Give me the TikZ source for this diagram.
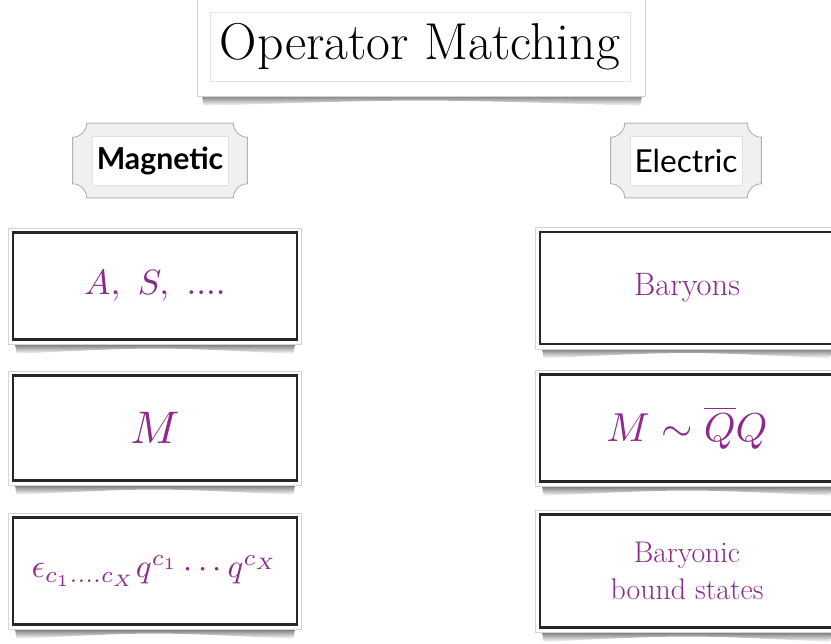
\documentclass[tikz,border=0pt]{standalone}
\usepackage{amsmath,amssymb}
\usepackage{graphicx}
\usepackage{fontspec}
\setsansfont{Lato}
\usetikzlibrary{calc,positioning,backgrounds}
\definecolor{plum}{HTML}{8C2A8E}
\definecolor{rim}{HTML}{D4D4D4}
\tikzset{opbox/.style={draw=black!85,line width=1.5pt,fill=white,minimum width=5.68cm,minimum height=2.14cm,text=plum,align=center,inner sep=0pt},
 titlebox/.style={draw=black!10,line width=.4pt,fill=white,minimum width=8.4cm,minimum height=1.38cm,inner sep=0pt,font=\fontsize{29.5}{32}\selectfont},
 sidetag/.style={draw=black!12,line width=.4pt,fill=white,minimum width=2.72cm,minimum height=.98cm,inner sep=0pt,font=\sffamily\fontsize{18}{20}\selectfont},
 outframe/.style={draw=rim,fill=white,line width=.7pt},
 shadowband/.style={top color=black!60,bottom color=white},
 tagline/.style={draw=black!30,fill=black!6,line width=.5pt}}

\begin{document}
\begin{tikzpicture}[x=0.02cm,y=0.02cm]
\useasboundingbox (0,0) rectangle (831,-643);
% title
\node[titlebox] (title) at (420,-47) {Operator Matching};
% headings
\node[sidetag,font=\sffamily\bfseries\fontsize{17.2}{20}\selectfont] (mag) at (160,-161) {Magnetic};
\node[sidetag,minimum width=2.24cm] (ele) at (686,-161) {Electric};
% magnetic column
\node[opbox] (m1) at (155,-286) {\scalebox{2.0}{$A,\ S,\ ....$}};
\node[opbox,minimum height=2.1cm] (m2) at (155,-428) {\scalebox{2.6}{$M$}};
\node[opbox] (m3) at (155,-571) {\scalebox{1.88}{$\epsilon_{c_1....c_X}q^{c_1}\cdots q^{c_X}$}};
% electric column
\node[opbox,minimum width=5.88cm,minimum height=2.24cm,font=\fontsize{18.5}{21}\selectfont] (e1) at (687,-288) {Baryons};
\node[opbox,minimum width=5.88cm,minimum height=2.14cm] (e2) at (687,-428) {\scalebox{2.3}{$M\sim\overline{Q}Q$}};
\node[opbox,minimum width=5.88cm,minimum height=2.26cm,font=\fontsize{17}{21}\selectfont] (e3) at (687,-571) {Baryonic\\bound states};
\begin{scope}[on background layer]
\foreach \b in {m1,m2,m3,e1,e2,e3} {
 \shade[shadowband] ($(\b.south west)+(3,-2)$) -- ($(\b.south east)+(-3,-2)$) -- ($(\b.south east)+(-5,-13)$) .. controls ($(\b.south)+(0,-6)$) .. ($(\b.south west)+(5,-13)$) -- cycle;
 \draw[outframe] ($(\b.south west)+(-3,-4)$) rectangle ($(\b.north east)+(3,3)$);
}
\shade[shadowband] ($(title.south west)+(-8,-12)$) -- ($(title.south east)+(12,-12)$) -- ($(title.south east)+(10,-24)$) .. controls ($(title.south)+(0,-17)$) .. ($(title.south west)+(-6,-24)$) -- cycle;
\draw[outframe] ($(title.south west)+(-12,-15)$) rectangle ($(title.north east)+(15,13)$);
\foreach \b in {mag,ele} {
 \draw[tagline] let \p1=($(\b.north west)+(-19,13)$), \p2=($(\b.south east)+(19,-12)$) in
  (\x1+8pt,\y1) -- (\x2-8pt,\y1) arc[start angle=180,end angle=270,radius=8pt]
  -- (\x2,\y2+8pt) arc[start angle=90,end angle=180,radius=8pt]
  -- (\x1+8pt,\y2) arc[start angle=0,end angle=90,radius=8pt]
  -- (\x1,\y1-8pt) arc[start angle=270,end angle=360,radius=8pt] -- cycle;
}
\end{scope}
\end{tikzpicture}
\end{document}
